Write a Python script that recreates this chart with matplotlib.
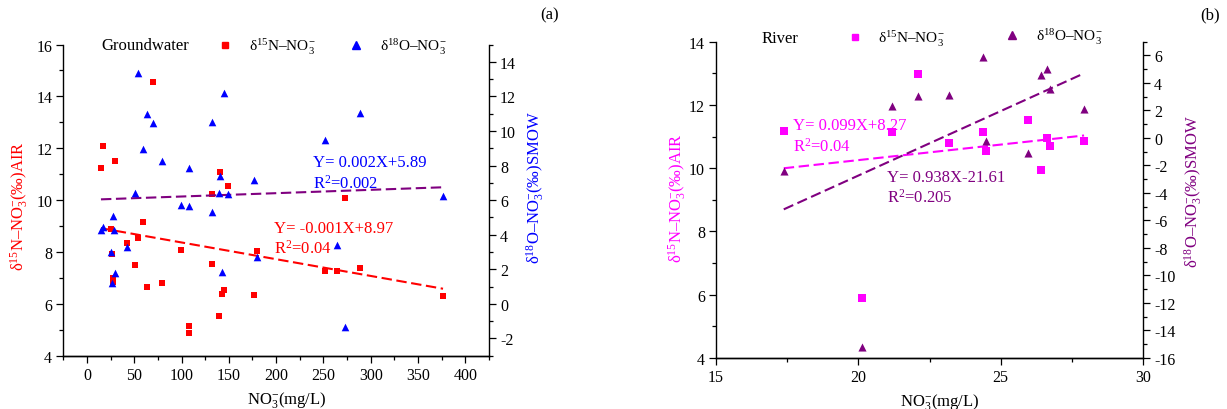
import numpy as np
import matplotlib
matplotlib.use("Agg")
import matplotlib.pyplot as plt
from matplotlib.lines import Line2D
from matplotlib.legend import Legend
from matplotlib.ticker import MultipleLocator

plt.rcParams["font.family"] = ["Liberation Serif", "DejaVu Serif"]
plt.rcParams["mathtext.fontset"] = "custom"
plt.rcParams["mathtext.rm"] = "Liberation Serif"
plt.rcParams["mathtext.it"] = "Liberation Serif:italic"
plt.rcParams["font.size"] = 11
plt.rcParams["axes.unicode_minus"] = False

# ---------------- Groundwater ----------------
gw_no3 = [14.8, 16.6, 29.3, 25.0, 26.8, 27.5, 27.5, 42.6, 50.4, 53.9, 59.2,
          63.4, 69.4, 79.6, 99.0, 108.2, 108.2, 132.5, 132.5, 139.6, 141.0,
          143.1, 144.5, 148.7, 176.9, 179.7, 252.0, 264.0, 273.1, 288.6, 376.4]
gw_d15n = [11.22, 12.09, 11.49, 8.87, 7.91, 6.99, 6.86, 8.33, 7.51, 8.52, 9.14,
           6.65, 14.56, 6.79, 8.07, 5.16, 4.87, 10.23, 7.52, 5.52, 11.10,
           6.39, 6.54, 10.55, 6.35, 8.03, 7.25, 7.25, 10.10, 7.38, 6.29]

gw_no3_o = [14.8, 16.6, 53.9, 63.4, 69.4, 59.2, 79.6, 50.4, 27.5, 28.2, 25.0,
            42.6, 30.0, 26.8, 99.0, 108.2, 108.2, 132.5, 132.5, 139.6, 141.0,
            145.2, 148.7, 143.1, 176.9, 179.7, 252.0, 264.0, 273.1, 288.6, 376.4]
gw_d18o = [4.25, 4.46, 13.36, 10.99, 10.45, 8.97, 8.27, 6.42, 5.07, 4.25, 3.01,
           3.28, 1.76, 1.22, 5.69, 5.65, 7.85, 10.51, 5.34, 6.40, 7.37,
           12.17, 6.37, 1.84, 7.18, 2.70, 9.45, 3.38, -1.33, 11.05, 6.21]

# ---------------- River ----------------
rv_no3 = [17.38, 20.12, 21.20, 22.11, 23.20, 24.39, 24.48, 25.96, 26.41, 26.62, 26.72, 27.93]
rv_d15n = [11.17, 5.91, 11.14, 12.99, 10.79, 11.13, 10.56, 11.51, 9.95, 10.94, 10.70, 10.85]
rv_d18o = [-2.42, -15.2, 2.36, 3.07, 3.14, 5.90, -0.21, -1.08, 4.59, 4.98, 3.55, 2.12]

RED, BLUE, PURPLE, MAGENTA = "#ff0000", "#0000ff", "#800080", "#ff00ff"

n15_label = "δ$^{15}$N–NO$_3^{-}$"
o18_label = "δ$^{18}$O–NO$_3^{-}$"
x_label = "NO$_3^{-}$(mg/L)"
yl_n = "δ$^{15}$N–NO$_3^{-}$(‰)AIR"
yl_o = "δ$^{18}$O–NO$_3^{-}$(‰)SMOW"

W, H = 1227, 410
fig = plt.figure(figsize=(W / 100, H / 100), dpi=100)


def px_axes(left, top, right, bottom):
    return fig.add_axes([left / W, 1 - bottom / H, (right - left) / W, (bottom - top) / H])


def style(ax, right=False):
    ax.tick_params(which="both", direction="out", width=0.9, labelsize=11.5, pad=3)
    ax.tick_params(which="major", length=5)
    ax.tick_params(which="minor", length=3)
    ax.spines["top"].set_visible(False)
    for s in ax.spines.values():
        s.set_linewidth(1.0)
    if not right:
        ax.spines["right"].set_visible(False)


def fit_line(ax, x, y, color):
    k, b = np.polyfit(x, y, 1)
    xs = np.array([min(x), max(x)])
    ax.plot(xs, k * xs + b, color=color, lw=1.5, linestyle=(0, (5, 2.2)), zorder=2)


def legend_item(ax, marker, color, ms, label, x, y, pad):
    h = Line2D([], [], marker=marker, color=color, linestyle="none", markersize=ms)
    lg = Legend(ax, [h], [label], loc="center left", bbox_to_anchor=(x, y),
                frameon=False, handlelength=1.0, handletextpad=pad,
                borderpad=0, borderaxespad=0, fontsize=11)
    ax.add_artist(lg)


# ---------------- panel (a) ----------------
ax = px_axes(63.3, 45.5, 489, 356.7)
ax2 = ax.twinx()
style(ax)
style(ax2, right=True)
ax2.spines["left"].set_visible(False)

ax.set_xlim(-25, 425)
ax.set_ylim(4, 16)
ax2.set_ylim(-3, 15)
ax.xaxis.set_major_locator(MultipleLocator(50))
ax.xaxis.set_minor_locator(MultipleLocator(25))
ax.yaxis.set_major_locator(MultipleLocator(2))
ax.yaxis.set_minor_locator(MultipleLocator(1))
ax2.yaxis.set_major_locator(MultipleLocator(2))
ax2.yaxis.set_minor_locator(MultipleLocator(1))

ax.scatter(gw_no3, gw_d15n, marker="s", s=24, color=RED, linewidths=0, zorder=3)
ax2.scatter(gw_no3_o, gw_d18o, marker="^", s=30, color=BLUE, linewidths=0, zorder=3)
fit_line(ax, gw_no3, gw_d15n, RED)
fit_line(ax2, gw_no3_o, gw_d18o, PURPLE)

ax.text(0.525, -0.139, x_label, transform=ax.transAxes, ha="center", va="center", fontsize=12)
ax.text(-0.104, 0.484, yl_n, transform=ax.transAxes, rotation=90, ha="center", va="center",
        color=RED, fontsize=12)
ax.text(1.108, 0.542, yl_o, transform=ax.transAxes, rotation=90, ha="center", va="center",
        color=BLUE, fontsize=12)

ax.text(0.587, 0.622, "Y= 0.002X+5.89", transform=ax.transAxes, color=BLUE, va="center", fontsize=12)
ax.text(0.587, 0.555, "R$^2$=0.002", transform=ax.transAxes, color=BLUE, va="center", fontsize=12)
ax.text(0.494, 0.410, "Y= -0.001X+8.97", transform=ax.transAxes, color=RED, va="center", fontsize=12)
ax.text(0.494, 0.346, "R$^2$=0.04", transform=ax.transAxes, color=RED, va="center", fontsize=12)

ax2.text(0.0887, 0.998, "Groundwater", transform=ax2.transAxes, va="center", fontsize=12)
legend_item(ax2, "s", RED, 5.0, n15_label, (217.4 - 63.3) / 425.7, 0.995, 1.1)
legend_item(ax2, "^", BLUE, 5.5, o18_label, (348.4 - 63.3) / 425.7, 0.995, 1.05)

fig.text(550 / W, 1 - 15 / H, "(a)", ha="center", va="center", fontsize=12)

# ---------------- panel (b) ----------------
bx = px_axes(716, 42.7, 1143, 359)
bx2 = bx.twinx()
style(bx)
style(bx2, right=True)
bx2.spines["left"].set_visible(False)

bx.set_xlim(15, 30)
bx.set_ylim(4, 14)
bx2.set_ylim(-16, 7)
bx.xaxis.set_major_locator(MultipleLocator(5))
bx.xaxis.set_minor_locator(MultipleLocator(2.5))
bx.yaxis.set_major_locator(MultipleLocator(2))
bx.yaxis.set_minor_locator(MultipleLocator(1))
bx2.yaxis.set_major_locator(MultipleLocator(2))
bx2.yaxis.set_minor_locator(MultipleLocator(1))

bx.scatter(rv_no3, rv_d15n, marker="s", s=26, color=MAGENTA, linewidths=0, zorder=3)
bx2.scatter(rv_no3, rv_d18o, marker="^", s=34, color=PURPLE, linewidths=0, zorder=3)
fit_line(bx, rv_no3, rv_d15n, MAGENTA)
fit_line(bx2, rv_no3, rv_d18o, PURPLE)

bx.text(0.525, -0.136, x_label, transform=bx.transAxes, ha="center", va="center", fontsize=12)
bx.text(-0.091, 0.509, yl_n, transform=bx.transAxes, rotation=90, ha="center", va="center",
        color=MAGENTA, fontsize=12)
bx.text(1.117, 0.528, yl_o, transform=bx.transAxes, rotation=90, ha="center", va="center",
        color=PURPLE, fontsize=12)

bx.text(0.180, 0.737, "Y= 0.099X+8.27", transform=bx.transAxes, color=MAGENTA, va="center", fontsize=12)
bx.text(0.180, 0.670, "R$^2$=0.04", transform=bx.transAxes, color=MAGENTA, va="center", fontsize=12)
bx.text(0.400, 0.572, "Y= 0.938X-21.61", transform=bx.transAxes, color=PURPLE, va="center", fontsize=12)
bx.text(0.400, 0.509, "R$^2$=0.205", transform=bx.transAxes, color=PURPLE, va="center", fontsize=12)

bx2.text((762 - 716) / 427, 1.012, "River", transform=bx2.transAxes, va="center", fontsize=12)
legend_item(bx2, "s", MAGENTA, 5.0, n15_label, (847.4 - 716) / 427, 1.012, 1.0)
legend_item(bx2, "^", PURPLE, 6.0, o18_label, (1004.4 - 716) / 427, 1.018, 1.1)

fig.text(1210 / W, 1 - 15 / H, "(b)", ha="center", va="center", fontsize=12)

fig.savefig("out.png", dpi=100)
